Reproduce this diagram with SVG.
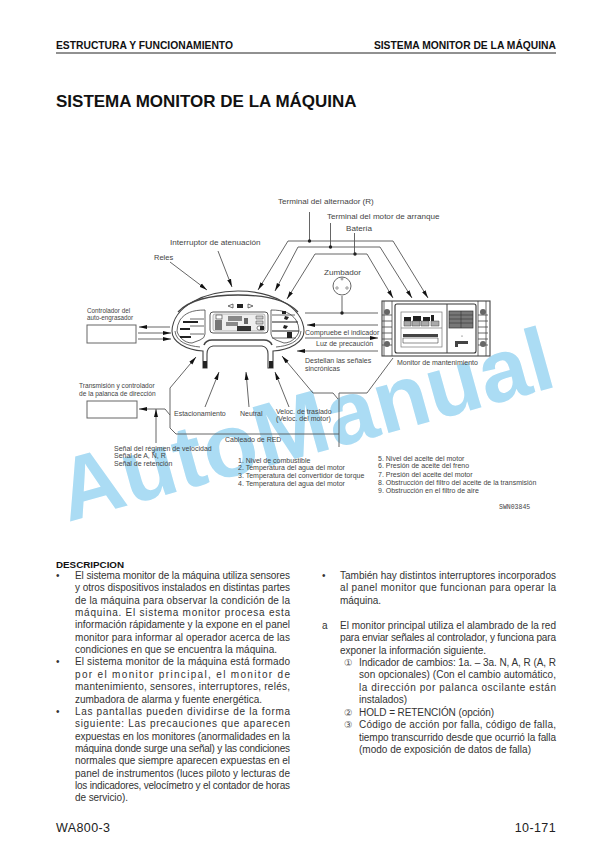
<svg xmlns="http://www.w3.org/2000/svg" width="612" height="866" viewBox="0 0 612 866">
<style>
text{font-family:"Liberation Sans",Arial,sans-serif;fill:#222}
.l{font-size:7px;fill:#444}
.m{font-size:8.100px;fill:#444}
.b{font-size:10px;fill:#333}
.c{font-size:9.500px;font-family:"DejaVu Sans","Noto Sans CJK JP",sans-serif;fill:#555}
.h{font-size:10.300px;font-weight:bold;fill:#111}
.ln{fill:none;stroke:#555;stroke-width:.9}
.d{fill:#222}
.arr{fill:none;stroke:#555;stroke-width:.9;marker-end:url(#a)}
.k{fill:none;stroke:#444;stroke-width:.8}
.kb{fill:#fff;stroke:#444;stroke-width:1.100}
.box{fill:#fff;stroke:#666;stroke-width:1}
</style>
<defs>
<marker id="a" markerWidth="9" markerHeight="5" refX="8" refY="2.500" orient="auto" markerUnits="userSpaceOnUse"><path d="M0 0.500L8 2.500L0 4.500Z" fill="#111"/></marker>
</defs>
<rect width="612" height="866" fill="#fff"/>
<text id="watermark" x="0" y="0" transform="translate(68 522) rotate(-15.500)" style="font-size:89px;font-weight:bold;fill:#abdcf4">AutoManual</text>

<g id="header">
<text class="h" x="56" y="49">ESTRUCTURA Y FUNCIONAMIENTO</text>
<text class="h" x="556" y="49" text-anchor="end">SISTEMA MONITOR DE LA MÁQUINA</text>
<line x1="56" y1="53" x2="556" y2="53" stroke="#222" stroke-width="1"/>
<text x="56" y="107" style="font-size:17px;font-weight:bold;fill:#111">SISTEMA MONITOR DE LA MÁQUINA</text>
</g>

<g id="connectors">
<path class="arr" d="M288 241L258 290"/><path class="arr" d="M288 241H393L428 298"/>
<path class="arr" d="M298 247L275 291"/><path class="arr" d="M298 247H380L412 298"/>
<path class="arr" d="M315 254L287 299"/><path class="arr" d="M315 254H367L393 298"/>
<path class="ln" d="M309.500 212V241M330.500 223V247M354.500 233V254"/>
<circle class="d" cx="309.500" cy="241" r="1.700"/><circle class="d" cx="330.500" cy="247" r="1.700"/><circle class="d" cx="355" cy="254" r="1.700"/>
<path class="ln" d="M342 296V313M305 313H378"/><circle class="d" cx="342" cy="313" r="1.700"/>
<path class="arr" d="M378 325H307"/><path class="arr" d="M305 338H378"/><path class="arr" d="M378 351H297"/>
<path class="arr" d="M170 327H139"/><path class="arr" d="M138 333H171"/><path class="arr" d="M138 339H171"/>
<path class="arr" d="M170 262L207 290"/><path class="arr" d="M218 251L232 287"/>
<path class="arr" d="M165 409H139"/><path class="arr" d="M156 443V409"/>
<path class="ln" d="M165 409L170 415"/>
<path class="arr" d="M170 388L196 357"/>
<path class="ln" d="M170 388V428L176 434H339"/>
<path class="arr" d="M313 393L282 356"/>
<path class="ln" d="M313 393H333L338 399M339 393V447M339 393H367L393 358"/>
<path class="arr" d="M205 407L219 372"/><path class="arr" d="M249 407L246 372"/><path class="arr" d="M289 407L275 372"/>
</g>

<g id="monitor-principal">
<path class="kb" d="M172 331C173 306 205 291 238 291C271 291 303 306 304 331C304 342 290 350 273 351V368H268V354Q268 347 262 346H213Q207 347 207 354V368H203V351C186 350 172 342 172 331Z"/>
<path d="M178 312C190 299 214 295 238 295C262 295 286 299 298 312" fill="none" stroke="#444" stroke-width="1.300"/>
<path class="k" d="M175 331C176 342 188 346 200 347M301 331C300 342 288 346 276 347"/>
<path d="M204 345Q206 340 212 340H264Q270 340 272 345" fill="none" stroke="#444" stroke-width="1.600"/>
<path d="M203 361h4v7h-4zM269 361h4v7h-4z" fill="#222"/>
<path class="k" d="M180 320C185 313 192 310 205 310V334Q205 338 200 340L192 343C184 343 178 336 177 331Q177 325 180 320Z"/>
<path class="k" d="M271 310C284 310 291 313 296 320Q299 325 299 331C298 336 292 343 284 343L276 340Q271 338 271 334Z"/>
<path d="M183 321H198V323H183ZM180 328H190V330H180ZM180 336H191V338H180Z" fill="#222"/>
<path class="k" d="M190 319H204M190 326H204M190 334H204"/>
<path d="M272 322H298M272 331H299" stroke="#222" stroke-width="1"/>
<path class="k" d="M272 315H295M272 338H296"/>
<path d="M282 311h4v3h-4zM285 316l4 1-2 3-3-1zM284 325l4 1-2 3-3-1zM287 332h5v6h-5z" fill="#222"/>
<rect x="210" y="312" width="58" height="21" rx="3" fill="#fff" stroke="#444" stroke-width=".9"/>
<rect x="213" y="314" width="52" height="17" rx="2" fill="#eee" stroke="#777" stroke-width=".5"/>
<path d="M228 306l5-2v4zM248 304l5 2-5 2z" fill="none" stroke="#333" stroke-width=".7"/><rect x="237" y="304" width="6" height="4" fill="#222"/>
<rect x="216" y="315" width="6" height="4" fill="#fff" stroke="#333" stroke-width=".6"/>
<rect x="215" y="320" width="7" height="10" fill="#777"/>
<path d="M228 316h14v5h-14zM226 322h12v4h-12z" fill="#888"/><path d="M244 318h4v6h-4z" fill="#666"/>
<rect x="237" y="326" width="14" height="5" fill="#333"/>
<path d="M256 316h7v3h-7zM256 321h7v3h-7z" fill="#ccc" stroke="#444" stroke-width=".5"/><rect x="257" y="326" width="7" height="4" rx="2" fill="#fff" stroke="#333" stroke-width=".6"/><rect x="260" y="326" width="4" height="4" fill="#222"/>
</g>

<g id="zumbador">
<circle cx="342" cy="286" r="9" fill="#fff" stroke="#555" stroke-width=".9"/>
<circle cx="342" cy="279" r="1" fill="none" stroke="#555" stroke-width=".6"/><circle cx="337" cy="288" r="1.200" fill="none" stroke="#555" stroke-width=".6"/><circle cx="347" cy="288" r="1.200" fill="none" stroke="#555" stroke-width=".6"/>
</g>

<g id="monitor-mantenimiento">
<rect x="382" y="301" width="108" height="55" fill="#fff" stroke="#444" stroke-width="1.100"/>
<rect x="395" y="304" width="81" height="49" rx="2" fill="#fff" stroke="#333" stroke-width="1.100"/>
<path d="M447 304V353" stroke="#444" stroke-width="1"/>
<path d="M384 301V356M392 301V356M478 301V356M486 301V356" stroke="#444" stroke-width=".8"/>
<path d="M382 315H392M382 321H392M382 327H392M382 333H392M382 339H392M382 345H392M478 315H488M478 321H488M478 327H488M478 333H488M478 339H488M478 345H488" stroke="#444" stroke-width=".8"/>
<circle cx="387" cy="312" r="3" fill="#666"/><circle cx="387" cy="344" r="3" fill="#666"/><circle cx="483" cy="312" r="3" fill="#666"/><circle cx="483" cy="344" r="3" fill="#666"/>
<rect x="401" y="312" width="41" height="35" fill="#fff" stroke="#777" stroke-width=".7"/>
<path d="M401 328H442" stroke="#777" stroke-width=".7"/>
<path d="M404 317h7v4h-7zM413 316h8v5h-8zM423 317h7v4h-7zM431 315h3v6h-3z" fill="#222"/>
<path d="M404 321h7v5h-7zM412 321h8v5h-8zM421 321h8v5h-8zM431 321h8v5h-8z" fill="#aaa" stroke="#444" stroke-width=".5"/>
<path d="M403 334h35v3h-35z" fill="#444"/><path d="M403 338h35v5h-35z" fill="none" stroke="#444" stroke-width=".6"/>
<rect x="449" y="311" width="24" height="17" fill="#777" stroke="#333" stroke-width=".7"/>
<path d="M461 311V328M449 315H473M449 319H473M449 323H473" stroke="#333" stroke-width=".6"/>
<path d="M455 341h13v3h-10v3h-3z" fill="#444"/><circle cx="462" cy="336" r=".6" fill="#444"/>
</g>

<g id="controlador"><rect class="box" x="87" y="325" width="49" height="18"/></g>
<g id="transmision"><rect class="box" x="87" y="401" width="50" height="17"/></g>

<g id="labels">
<text class="m" x="278" y="204">Terminal del alternador (R)</text>
<text class="m" x="327" y="219">Terminal del motor de arranque</text>
<text class="m" x="346" y="231">Batería</text>
<text class="m" x="324" y="275">Zumbador</text>
<text class="m" x="170" y="245">Interruptor de atenuación</text>
<text class="l" x="154" y="260" style="font-size:7.500px">Reles</text>
<text class="l" x="87" y="313" style="font-size:6.300px">Controlador del</text>
<text class="l" x="87" y="320" style="font-size:6.300px">auto-engrasador</text>
<text class="l" x="305" y="335">Compruebe el indicador</text>
<text class="l" x="316" y="346">Luz de precaución</text>
<text class="l" x="305" y="363">Destellan las señales</text>
<text class="l" x="305" y="371">sincrónicas</text>
<text class="l" x="397" y="365">Monitor de mantenimiento</text>
<text class="l" x="79" y="388" style="font-size:6.600px">Transmisión y controlador</text>
<text class="l" x="79" y="396" style="font-size:6.600px">de la palanca de dirección</text>
<text class="l" x="174" y="416">Estacionamiento</text>
<text class="l" x="240" y="416">Neutral</text>
<text class="l" x="276" y="414">Veloc. de traslado</text>
<text class="l" x="276" y="421">(Veloc. del motor)</text>
<text class="l" x="225" y="442">Cableado de RED</text>
<text class="l" x="114" y="451">Señal del régimen de velocidad</text>
<text class="l" x="114" y="458">Señal de A, N, R</text>
<text class="l" x="114" y="466">Señal de retención</text>
<text class="l" x="238" y="463">1. Nivel de combustible</text>
<text class="l" x="238" y="470">2. Temperatura del agua del motor</text>
<text class="l" x="238" y="478">3. Temperatura del convertidor de torque</text>
<text class="l" x="238" y="486">4. Temperatura del agua del motor</text>
<text class="l" x="378" y="461">5. Nivel del aceite del motor</text>
<text class="l" x="378" y="468">6. Presión de aceite del freno</text>
<text class="l" x="378" y="477">7. Presión del aceite del motor</text>
<text class="l" x="378" y="485">8. Obstrucción del filtro del aceite de la transmisión</text>
<text class="l" x="378" y="493">9. Obstrucción en el filtro de aire</text>
<text x="499" y="509" style="font-family:'Liberation Mono',monospace;font-size:6.500px;fill:#444">SWN03845</text>
</g>

<g id="texto-izquierda">
<text x="56" y="568" style="font-size:9.800px;font-weight:bold;fill:#111">DESCRIPCION</text>
<text class="b" x="56" y="579">•</text>
<text class="b" x="75" y="579" textLength="215" lengthAdjust="spacing">El sistema monitor de la máquina utiliza sensores</text>
<text class="b" x="75" y="591" textLength="215" lengthAdjust="spacing">y otros dispositivos instalados en distintas partes</text>
<text class="b" x="75" y="604" textLength="215" lengthAdjust="spacing">de la máquina para observar la condición de la</text>
<text class="b" x="75" y="616" textLength="215" lengthAdjust="spacing">máquina. El sistema monitor procesa esta</text>
<text class="b" x="75" y="628" textLength="215" lengthAdjust="spacing">información rápidamente y la expone en el panel</text>
<text class="b" x="75" y="641" textLength="215" lengthAdjust="spacing">monitor para informar al operador acerca de las</text>
<text class="b" x="75" y="653" textLength="202" lengthAdjust="spacing">condiciones en que se encuentra la máquina.</text>
<text class="b" x="56" y="665">•</text>
<text class="b" x="75" y="665" textLength="215" lengthAdjust="spacing">El sistema monitor de la máquina está formado</text>
<text class="b" x="75" y="678" textLength="215" lengthAdjust="spacing">por el monitor principal, el monitor de</text>
<text class="b" x="75" y="690" textLength="215" lengthAdjust="spacing">mantenimiento, sensores, interruptores, relés,</text>
<text class="b" x="75" y="703" textLength="187" lengthAdjust="spacing">zumbadora de alarma y fuente energética.</text>
<text class="b" x="56" y="715">•</text>
<text class="b" x="75" y="715" textLength="215" lengthAdjust="spacing">Las pantallas pueden dividirse de la forma</text>
<text class="b" x="75" y="727" textLength="215" lengthAdjust="spacing">siguiente: Las precauciones que aparecen</text>
<text class="b" x="75" y="740" textLength="215" lengthAdjust="spacing">expuestas en los monitores (anormalidades en la</text>
<text class="b" x="75" y="752" textLength="215" lengthAdjust="spacing">máquina donde surge una señal) y las condiciones</text>
<text class="b" x="75" y="764" textLength="215" lengthAdjust="spacing">normales que siempre aparecen expuestas en el</text>
<text class="b" x="75" y="777" textLength="215" lengthAdjust="spacing">panel de instrumentos (luces piloto y lecturas de</text>
<text class="b" x="75" y="789" textLength="215" lengthAdjust="spacing">los indicadores, velocímetro y el contador de horas</text>
<text class="b" x="75" y="801" textLength="53" lengthAdjust="spacing">de servicio).</text>
</g>

<g id="texto-derecha">
<text class="b" x="322" y="579">•</text>
<text class="b" x="340" y="579" textLength="216" lengthAdjust="spacing">También hay distintos interruptores incorporados</text>
<text class="b" x="340" y="591" textLength="216" lengthAdjust="spacing">al panel monitor que funcionan para operar la</text>
<text class="b" x="340" y="604" textLength="41" lengthAdjust="spacing">máquina.</text>
<text class="b" x="322" y="629">a</text>
<text class="b" x="340" y="629" textLength="216" lengthAdjust="spacing">El monitor principal utiliza el alambrado de la red</text>
<text class="b" x="340" y="641" textLength="216" lengthAdjust="spacing">para enviar señales al controlador, y funciona para</text>
<text class="b" x="340" y="654" textLength="146" lengthAdjust="spacing">exponer la información siguiente.</text>
<text class="c" x="344" y="666">①</text>
<text class="b" x="359" y="666" textLength="197" lengthAdjust="spacing">Indicador de cambios: 1a. – 3a. N, A, R (A, R</text>
<text class="b" x="359" y="678" textLength="197" lengthAdjust="spacing">son opcionales) (Con el cambio automático,</text>
<text class="b" x="359" y="691" textLength="197" lengthAdjust="spacing">la dirección por palanca oscilante están</text>
<text class="b" x="359" y="703" textLength="48" lengthAdjust="spacing">instalados)</text>
<text class="c" x="344" y="716">②</text>
<text class="b" x="359" y="716" textLength="135" lengthAdjust="spacing">HOLD = RETENCIÓN (opción)</text>
<text class="c" x="344" y="728">③</text>
<text class="b" x="359" y="728" textLength="197" lengthAdjust="spacing">Código de acción por falla, código de falla,</text>
<text class="b" x="359" y="741" textLength="197" lengthAdjust="spacing">tiempo transcurrido desde que ocurrió la falla</text>
<text class="b" x="359" y="753" textLength="172" lengthAdjust="spacing">(modo de exposición de datos de falla)</text>
</g>

<g id="footer">
<text x="56" y="832" style="font-size:12.500px;letter-spacing:.4px">WA800-3</text>
<text x="556" y="832" text-anchor="end" style="font-size:12.500px;letter-spacing:.4px">10-171</text>
</g>
</svg>
